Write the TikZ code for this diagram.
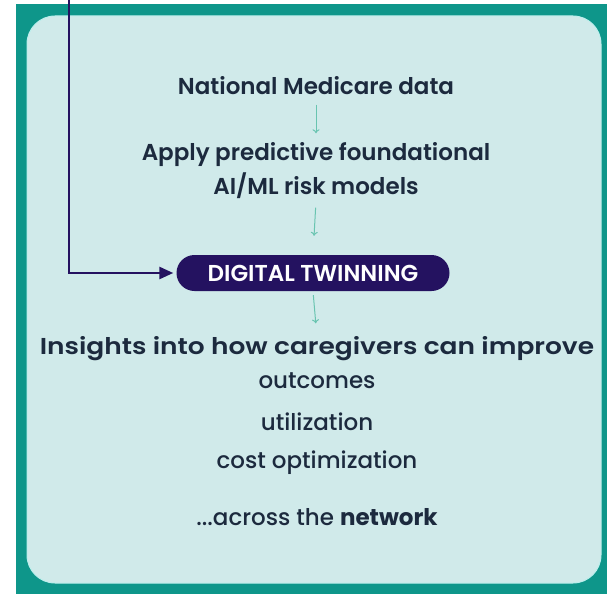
\documentclass[tikz,border=0pt]{standalone}
\usepackage{fontspec}
\setmainfont{Poppins}[BoldFont={Poppins SemiBold}]
\newfontfamily\popmed{Poppins Medium}
\newfontfamily\popbold{Poppins Bold}
\usetikzlibrary{arrows.meta, positioning}
\definecolor{colFrame}{RGB}{14,150,138}
\definecolor{colPanel}{RGB}{208,234,234}
\definecolor{colEdge} {RGB}{188,238,236}
\definecolor{colInk}  {RGB}{28,42,62}
\definecolor{colTwin} {RGB}{36,18,96}
\definecolor{colFlow} {RGB}{104,196,176}
\tikzset{
  txt/.style  = {font=\fontsize{23}{26}\selectfont\bfseries, text=colInk,
                 inner sep=0pt, text height=17pt, text depth=6pt},
  item/.style = {txt, font=\fontsize{23}{26}\selectfont\popmed},
  pill/.style = {fill=colTwin, text=white, rounded corners=18pt,
                 minimum width=273pt, minimum height=36pt,
                 font=\fontsize{23}{25}\selectfont\bfseries},
  flow/.style = {-{To[length=4pt,width=7pt]}, colFlow, line width=1pt},
  feed/.style = {-{Triangle[length=14pt,width=12pt]}, colTwin, line width=2.6pt},
}

\begin{document}
\begin{tikzpicture}[x=1pt, y=-1pt]

%% -- frame and panel ---------------------------------------------------------
\useasboundingbox (0,0) rectangle (607,594);
\fill[colFrame] (16,4) rectangle (607,594);
\draw[colEdge, line width=1pt, fill=colPanel, rounded corners=28pt]
  (27,16) rectangle (601,583);

%% -- nodes -------------------------------------------------------------------
\node[txt]  (natl)    at (316,89)  {National Medicare data};
\node[txt]  (apply)   at (316,155) {Apply predictive foundational};
\node[txt]  (risk)    at (316,189) {AI/ML risk models};
\node[pill] (twin)    at (313,273) {DIGITAL TWINNING};
\node[txt, transform shape, xscale=1.15]
            (insight) at (317,349) {Insights into how caregivers can improve};
\node[item] (outc)    at (317,383) {outcomes};
\node[item] (util)    at (317,425) {utilization};
\node[item] (cost)    at (317,463) {cost optimization};
\node[item] (across)  at (317,520) {...across the {\popbold network}};

%% -- flow arrows -------------------------------------------------------------
\draw[flow, shorten <=4pt, shorten >=10pt] (natl.south) -- (apply.north);
\draw[flow, shorten <=7pt, shorten >=19pt] (risk.south) -- (twin.north);
\draw[flow, shorten <=4pt, shorten >=14pt] (twin.south) -- (insight.north);

%% -- feed into the twin (from above) -----------------------------------------
\coordinate (feedtop) at (69,0);
\draw[feed, shorten >=3pt] (feedtop) |- (twin.west);

\end{tikzpicture}
\end{document}
